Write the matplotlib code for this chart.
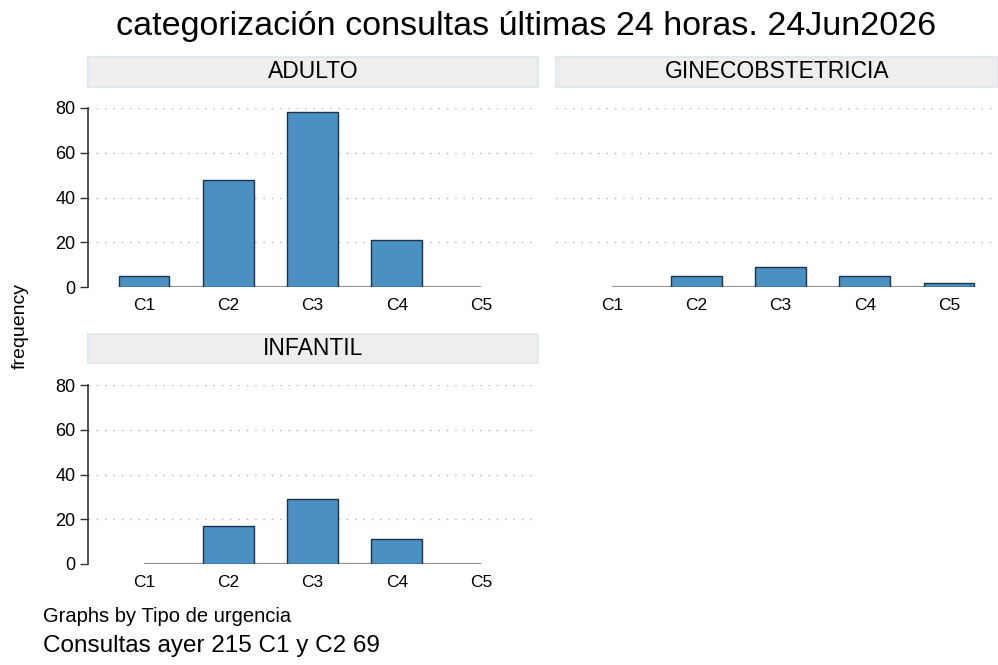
import matplotlib
matplotlib.use("Agg")
import matplotlib.pyplot as plt
import numpy as np

plt.rcParams["font.family"] = ["Liberation Sans", "DejaVu Sans"]

W, H = 998, 665

titulo = "categorización consultas últimas 24 horas. 24Jun2026"
categorias = ["C1", "C2", "C3", "C4", "C5"]
paneles = ["ADULTO", "GINECOBSTETRICIA", "INFANTIL"]
adulto = [5, 48, 78, 21, 0]
gineco = [0, 5, 9, 5, 2]
infantil = [0, 17, 29, 11, 0]
y_ticks = [0, 20, 40, 60, 80]
nota = "Graphs by Tipo de urgencia"
pie = "Consultas ayer 215 C1 y C2 69"

COLOR_BARRA = "#4a90c2"
COLOR_BORDE = "#1d3446"
COLOR_GRID = "#b5b5b5"
COLOR_STRIP = "#eeeeee"
COLOR_STRIP_BORDE = "#dce7ec"


def px_rect(x0, y0, x1, y1):
    """pixel box (top-left origin) -> figure fraction [l, b, w, h]"""
    return [x0 / W, 1 - y1 / H, (x1 - x0) / W, (y1 - y0) / H]


def panel(fig, caja, strip, nombre, valores, mostrar_y=True):
    ax = fig.add_axes(px_rect(*caja))
    x = np.arange(1, len(categorias) + 1)
    ancho_px = caja[2] - caja[0]
    # 84.25 px entre categorias
    x_izq = 1 - (144 - 88) / 84.25
    ax.set_xlim(x_izq, x_izq + ancho_px / 84.25)
    ax.set_ylim(0, 80)

    for yv in y_ticks:
        ax.axhline(yv, color=COLOR_GRID, lw=1.0, ls=(0, (1, 5)), zorder=0)
    ax.plot([1, 5], [0, 0], color="#959595", lw=1.6, zorder=1, solid_capstyle="butt")

    v = np.array(valores)
    m = v > 0
    ax.bar(x[m], v[m], width=0.6, color=COLOR_BARRA, edgecolor=COLOR_BORDE,
           linewidth=1.0, zorder=2)

    ax.set_xticks(x)
    ax.set_xticklabels(categorias, fontsize=12.5)
    ax.tick_params(axis="x", length=0, pad=8)
    for s in ["top", "right", "bottom"]:
        ax.spines[s].set_visible(False)
    if mostrar_y:
        ax.set_yticks(y_ticks)
        ax.tick_params(axis="y", length=6, width=1, pad=3, labelsize=13,
                       color="#333333")
        ax.spines["left"].set_color("#333333")
        ax.spines["left"].set_linewidth(1.2)
    else:
        ax.set_yticks([])
        ax.spines["left"].set_visible(False)

    sax = fig.add_axes(px_rect(*strip))
    sax.set_xticks([])
    sax.set_yticks([])
    sax.set_facecolor(COLOR_STRIP)
    for s in sax.spines.values():
        s.set_color(COLOR_STRIP_BORDE)
        s.set_linewidth(1.2)
    sax.text(0.5, 0.5, nombre, ha="center", va="center", fontsize=16.5,
             transform=sax.transAxes)
    return ax


fig = plt.figure(figsize=(W / 100, H / 100), dpi=100)
fig.patch.set_facecolor("white")

panel(fig, (88, 108, 538, 287), (88, 57, 538, 87), paneles[0], adulto)
panel(fig, (556, 108, 998, 287), (556, 57, 998, 87), paneles[1], gineco, mostrar_y=False)
panel(fig, (88, 385, 538, 564), (88, 334, 538, 363), paneles[2], infantil)

fig.text(526 / W, 1 - 27 / H, titulo, ha="center", va="center", fontsize=24.5)
fig.text(20 / W, 1 - 326 / H, "frequency", rotation=90, ha="center", va="center",
         fontsize=14)
fig.text(43 / W, 1 - 616 / H, nota, ha="left", va="center", fontsize=14.5)
fig.text(43 / W, 1 - 646 / H, pie, ha="left", va="center", fontsize=17.5)

fig.savefig("out.png", dpi=100, facecolor="white")
